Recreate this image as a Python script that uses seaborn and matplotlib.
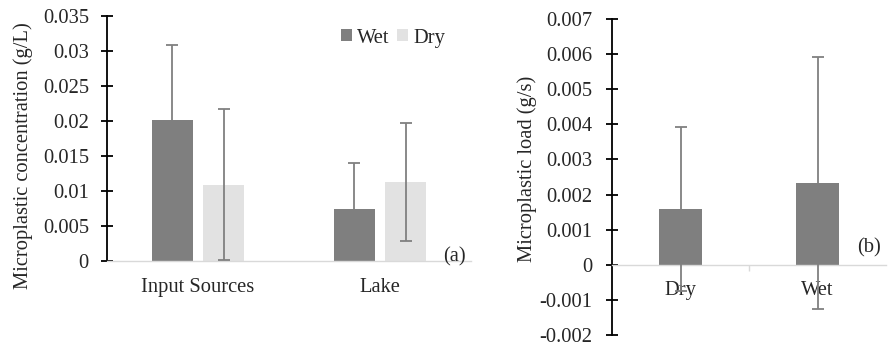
import matplotlib
matplotlib.use("Agg")
import matplotlib.pyplot as plt
from matplotlib.ticker import FuncFormatter, FixedLocator
from matplotlib.patches import Patch
import seaborn as sns
import pandas as pd

# ---- data (panel a) ----
sites = ["Input Sources", "Lake"]
seasons = ["Wet", "Dry"]
conc_wet = [0.0201, 0.0074]
conc_dry = [0.0109, 0.0113]
err_wet = [0.0107, 0.0066]
err_dry = [0.0108, 0.0084]
yticks_a = [0, 0.005, 0.01, 0.015, 0.02, 0.025, 0.03, 0.035]

# ---- data (panel b) ----
load_cats = ["Dry", "Wet"]
load_vals = [0.00159, 0.00234]
load_err = [0.00234, 0.00359]
yticks_b = [-0.002, -0.001, 0, 0.001, 0.002, 0.003, 0.004, 0.005, 0.006, 0.007]

WET_C = "#7f7f7f"
DRY_C = "#e2e2e2"
ERR_C = "#808080"
FS = 14.8

sns.set_style("white")
plt.rcParams["font.family"] = "serif"
plt.rcParams["font.serif"] = ["Liberation Serif", "DejaVu Serif"]
plt.rcParams["font.size"] = FS

fig = plt.figure(figsize=(8.9, 3.49), dpi=100)
ax1 = fig.add_axes([107/890, (349-261)/349, 364/890, 245/349])
ax2 = fig.add_axes([612/890, (349-335)/349, 274/890, 316/349])

fmt = FuncFormatter(lambda v, p: "0" if abs(v) < 1e-12 else "%g" % v)

# ---------- panel a ----------
df_a = pd.DataFrame({
    "site": sites * 2,
    "season": ["Wet"] * len(sites) + ["Dry"] * len(sites),
    "value": conc_wet + conc_dry,
})
sns.barplot(data=df_a, x="site", y="value", hue="season", order=sites,
            hue_order=seasons, palette={"Wet": WET_C, "Dry": DRY_C},
            width=0.568, gap=0.208, errorbar=None, legend=False,
            saturation=1, linewidth=0, ax=ax1)
errs = {"Wet": err_wet, "Dry": err_dry}
for cont, season in zip(ax1.containers, seasons):
    for bar, e in zip(cont.patches, errs[season]):
        ax1.errorbar(bar.get_x() + bar.get_width()/2, bar.get_height(), yerr=e,
                     fmt="none", ecolor=ERR_C, elinewidth=1.3, capsize=4,
                     capthick=1.3, zorder=5)
ax1.set_xlim(-0.5, 1.5)
ax1.set_ylim(0, 0.035)
ax1.yaxis.set_major_locator(FixedLocator(yticks_a))
ax1.yaxis.set_major_formatter(fmt)
ax1.set_xlabel("")
ax1.set_ylabel("Microplastic concentration (g/L)", fontsize=FS)
ax1.yaxis.set_label_coords(-0.203, 0.4286)
for s in ["top", "right"]:
    ax1.spines[s].set_visible(False)
ax1.spines["left"].set_color("black")
ax1.spines["left"].set_linewidth(1.3)
ax1.spines["bottom"].set_color("#d9d9d9")
ax1.spines["bottom"].set_linewidth(1.0)
ax1.tick_params(axis="y", direction="inout", length=8, width=1.3, pad=9,
                labelsize=FS, left=True, color="black")
ax1.tick_params(axis="x", length=0, pad=12, labelsize=FS)
leg_handles = [Patch(facecolor=WET_C, edgecolor="none", label="Wet"),
               Patch(facecolor=DRY_C, edgecolor="none", label="Dry")]
ax1.legend(handles=leg_handles, loc="center", bbox_to_anchor=(0.786, 0.91),
           ncol=2, frameon=False, fontsize=FS, handlelength=0.55,
           handleheight=0.55, handletextpad=0.25, columnspacing=0.35,
           borderpad=0)
ax1.text(0.923, 0.016, "(a)", transform=ax1.transAxes, fontsize=FS,
         ha="left", va="center")

# ---------- panel b ----------
df_b = pd.DataFrame({"season": load_cats, "load": load_vals})
sns.barplot(data=df_b, x="season", y="load", order=load_cats, color=WET_C,
            width=0.307, errorbar=None, saturation=1, linewidth=0, ax=ax2)
for bar, e in zip(ax2.containers[0].patches, load_err):
    ax2.errorbar(bar.get_x() + bar.get_width()/2, bar.get_height(), yerr=e,
                 fmt="none", ecolor=ERR_C, elinewidth=1.3, capsize=4,
                 capthick=1.3, zorder=5)
ax2.set_xlim(-0.5, 1.5)
ax2.set_ylim(-0.002, 0.007)
ax2.yaxis.set_major_locator(FixedLocator(yticks_b))
ax2.yaxis.set_major_formatter(fmt)
ax2.set_xlabel("")
ax2.set_ylabel("Microplastic load (g/s)", fontsize=FS)
ax2.yaxis.set_label_coords(-0.274, 0.527)
for s in ["top", "right"]:
    ax2.spines[s].set_visible(False)
ax2.spines["left"].set_color("black")
ax2.spines["left"].set_linewidth(1.3)
ax2.spines["bottom"].set_position(("data", 0))
ax2.spines["bottom"].set_color("#d9d9d9")
ax2.spines["bottom"].set_linewidth(1.0)
ax2.tick_params(axis="y", direction="inout", length=8, width=1.3, pad=10,
                labelsize=FS, left=True, color="black")
ax2.tick_params(axis="x", which="major", length=0, pad=12, labelsize=FS)
ax2.xaxis.set_minor_locator(FixedLocator([0.5]))
ax2.tick_params(axis="x", which="minor", direction="out", length=4,
                width=1.0, color="#d9d9d9", bottom=True)
ax2.text(0.894, 0.275, "(b)", transform=ax2.transAxes, fontsize=FS,
         ha="left", va="center")

fig.savefig("out.png", dpi=100, facecolor="white")
